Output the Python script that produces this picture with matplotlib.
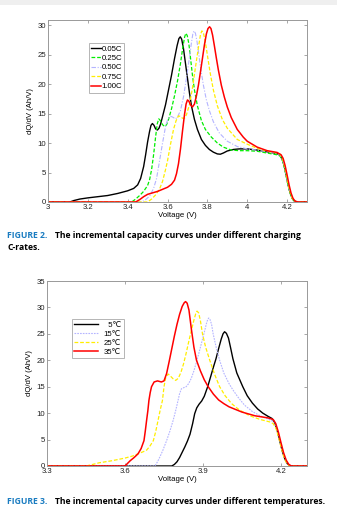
import matplotlib
matplotlib.use("Agg")
import matplotlib.pyplot as plt
from matplotlib.patches import Rectangle

plt.rcParams['font.family'] = ['Liberation Sans', 'DejaVu Sans']

# ---------------- Figure 2 data (C-rates) ----------------
v_005 = [3.0, 3.11, 3.13, 3.16, 3.2, 3.25, 3.3, 3.35, 3.4, 3.43, 3.45, 3.465, 3.48, 3.49, 3.5, 3.51, 3.517, 3.524, 3.532, 3.54, 3.549, 3.557, 3.565, 3.575, 3.59, 3.605, 3.62, 3.635, 3.648, 3.657, 3.664, 3.671, 3.68, 3.69, 3.7, 3.71, 3.72, 3.735, 3.75, 3.77, 3.79, 3.81, 3.83, 3.85, 3.865, 3.88, 3.9, 3.93, 3.96, 4.0, 4.05, 4.1, 4.15, 4.165, 4.175, 4.185, 4.195, 4.205, 4.215, 4.225, 4.235, 4.25, 4.3]
q_005 = [0.0, 0.0, 0.25, 0.5, 0.7, 0.9, 1.1, 1.45, 1.9, 2.3, 2.9, 4.0, 6.0, 8.0, 10.2, 12.0, 13.0, 13.3, 13.0, 12.4, 12.2, 12.5, 13.2, 14.5, 16.5, 19.0, 21.5, 24.3, 26.5, 27.7, 28.0, 27.6, 26.0, 23.5, 21.0, 18.5, 16.3, 14.0, 12.3, 10.6, 9.6, 8.9, 8.45, 8.15, 8.1, 8.3, 8.65, 8.9, 9.0, 9.0, 8.8, 8.5, 8.2, 7.9, 7.3, 6.2, 4.6, 2.9, 1.6, 0.7, 0.2, 0.0, 0.0]

v_025 = [3.0, 3.42, 3.44, 3.46, 3.48, 3.5, 3.51, 3.52, 3.53, 3.54, 3.548, 3.556, 3.564, 3.575, 3.586, 3.595, 3.605, 3.62, 3.635, 3.65, 3.665, 3.677, 3.686, 3.692, 3.699, 3.707, 3.715, 3.725, 3.735, 3.75, 3.77, 3.79, 3.82, 3.85, 3.88, 3.92, 3.96, 4.0, 4.05, 4.1, 4.15, 4.165, 4.175, 4.185, 4.195, 4.205, 4.215, 4.225, 4.235, 4.25, 4.3]
q_025 = [0.0, 0.0, 0.5, 1.1, 1.8, 2.8, 3.8, 5.5, 8.0, 11.0, 13.2, 14.1, 13.8, 13.1, 12.8, 13.1, 14.0, 15.8, 18.0, 20.5, 23.5, 26.3, 28.0, 28.6, 28.2, 26.8, 24.5, 21.5, 19.0, 16.3, 13.8, 12.3, 11.0, 10.0, 9.3, 8.8, 8.7, 8.7, 8.6, 8.3, 8.0, 7.8, 7.2, 6.1, 4.5, 2.8, 1.5, 0.6, 0.15, 0.0, 0.0]

v_050 = [3.0, 3.47, 3.49, 3.51, 3.53, 3.545, 3.56, 3.575, 3.59, 3.6, 3.61, 3.62, 3.63, 3.64, 3.65, 3.665, 3.68, 3.695, 3.71, 3.72, 3.727, 3.733, 3.74, 3.748, 3.757, 3.767, 3.78, 3.795, 3.81, 3.83, 3.86, 3.9, 3.95, 4.0, 4.05, 4.1, 4.15, 4.165, 4.175, 4.185, 4.195, 4.205, 4.215, 4.225, 4.235, 4.25, 4.3]
q_050 = [0.0, 0.0, 0.4, 1.0, 2.3, 4.0, 7.0, 10.0, 12.8, 13.9, 14.4, 14.5, 14.3, 14.1, 14.4, 15.5, 17.8, 21.0, 24.5, 27.0, 28.5, 29.0, 28.6, 27.2, 25.0, 22.5, 19.8, 17.3, 15.5, 13.6, 11.7, 10.3, 9.4, 9.0, 8.8, 8.5, 8.2, 8.0, 7.4, 6.3, 4.7, 3.0, 1.6, 0.7, 0.2, 0.0, 0.0]

v_075 = [3.0, 3.5, 3.52, 3.54, 3.56, 3.575, 3.59, 3.6, 3.615, 3.63, 3.643, 3.655, 3.665, 3.675, 3.685, 3.695, 3.71, 3.725, 3.74, 3.755, 3.765, 3.772, 3.779, 3.787, 3.795, 3.805, 3.815, 3.83, 3.85, 3.875, 3.9, 3.95, 4.0, 4.05, 4.1, 4.15, 4.165, 4.175, 4.185, 4.195, 4.205, 4.215, 4.225, 4.235, 4.25, 4.3]
q_075 = [0.0, 0.0, 0.5, 1.2, 2.2, 3.5, 5.5, 7.0, 9.8, 12.3, 13.8, 14.6, 14.5, 14.2, 14.2, 14.8, 16.5, 19.3, 22.8, 26.2, 28.3, 29.0, 28.8, 27.6, 26.0, 23.8, 21.7, 19.0, 16.3, 14.0, 12.5, 10.6, 9.8, 9.1, 8.6, 8.3, 8.1, 7.5, 6.4, 4.8, 3.1, 1.7, 0.7, 0.2, 0.0, 0.0]

v_100 = [3.0, 3.44, 3.46, 3.48, 3.5, 3.55, 3.6, 3.62, 3.635, 3.645, 3.655, 3.665, 3.675, 3.685, 3.693, 3.7, 3.707, 3.715, 3.725, 3.735, 3.745, 3.755, 3.765, 3.775, 3.785, 3.795, 3.803, 3.811, 3.818, 3.826, 3.835, 3.845, 3.855, 3.87, 3.885, 3.9, 3.92, 3.95, 3.98, 4.0, 4.05, 4.1, 4.15, 4.17, 4.18, 4.19, 4.2, 4.21, 4.22, 4.23, 4.24, 4.255, 4.3]
q_100 = [0.0, 0.0, 0.4, 0.9, 1.3, 1.8, 2.5, 3.0, 3.7, 4.8, 6.5, 9.0, 12.0, 14.8, 16.6, 17.3, 17.1, 16.5, 16.1, 16.6, 18.0, 19.8, 22.0, 24.3, 26.6, 28.5, 29.4, 29.7, 29.4, 28.3, 26.5, 24.4, 22.4, 19.8, 17.8, 16.1, 14.3, 12.3, 11.0, 10.3, 9.3, 8.7, 8.4, 8.0, 7.4, 6.2, 4.6, 2.9, 1.5, 0.6, 0.15, 0.0, 0.0]

labels2 = ['0.05C', '0.25C', '0.50C', '0.75C', '1.00C']
xticks2 = [3.0, 3.2, 3.4, 3.6, 3.8, 4.0, 4.2]
xticklabels2 = ['3', '3.2', '3.4', '3.6', '3.8', '4', '4.2']
yticks2 = [0, 5, 10, 15, 20, 25, 30]

# ---------------- Figure 3 data (temperatures) ----------------
v_5 = [3.3, 3.78, 3.79, 3.8, 3.81, 3.82, 3.83, 3.84, 3.85, 3.86, 3.868, 3.876, 3.885, 3.895, 3.905, 3.918, 3.93, 3.94, 3.95, 3.96, 3.97, 3.977, 3.983, 3.99, 3.998, 4.006, 4.015, 4.03, 4.053, 4.07, 4.09, 4.11, 4.13, 4.15, 4.165, 4.175, 4.185, 4.195, 4.205, 4.215, 4.225, 4.235, 4.3]
q_5 = [0.0, 0.0, 0.3, 0.8, 1.6, 2.6, 3.6, 4.7, 6.0, 8.0, 9.9, 11.0, 11.7, 12.3, 13.2, 15.0, 17.0, 18.7, 20.3, 22.2, 24.0, 25.0, 25.4, 25.1, 24.2, 22.4, 20.3, 17.6, 15.0, 13.3, 11.9, 10.8, 10.0, 9.4, 9.0, 8.3, 6.8, 4.8, 2.8, 1.3, 0.4, 0.0, 0.0]

v_15 = [3.3, 3.715, 3.725, 3.734, 3.745, 3.76, 3.772, 3.785, 3.795, 3.804, 3.81, 3.817, 3.825, 3.835, 3.845, 3.855, 3.865, 3.875, 3.885, 3.895, 3.905, 3.913, 3.918, 3.922, 3.927, 3.933, 3.939, 3.95, 3.964, 3.98, 4.0, 4.015, 4.035, 4.06, 4.09, 4.12, 4.15, 4.17, 4.18, 4.19, 4.2, 4.21, 4.22, 4.23, 4.24, 4.3]
q_15 = [0.0, 0.0, 0.8, 1.7, 2.9, 4.8, 6.5, 8.6, 10.5, 12.4, 13.7, 14.6, 14.8, 15.0, 15.6, 16.6, 18.0, 19.7, 21.5, 23.4, 25.3, 26.9, 27.7, 28.0, 27.7, 26.8, 25.0, 22.6, 20.0, 17.6, 15.6, 14.4, 13.0, 11.5, 10.3, 9.5, 8.9, 8.4, 7.6, 6.0, 4.0, 2.2, 0.9, 0.25, 0.0, 0.0]

v_25 = [3.3, 3.45, 3.48, 3.5, 3.55, 3.6, 3.63, 3.65, 3.67, 3.683, 3.695, 3.709, 3.718, 3.727, 3.735, 3.744, 3.75, 3.757, 3.766, 3.775, 3.785, 3.795, 3.805, 3.815, 3.825, 3.835, 3.845, 3.855, 3.865, 3.872, 3.877, 3.883, 3.89, 3.898, 3.91, 3.926, 3.945, 3.964, 3.985, 4.01, 4.04, 4.08, 4.12, 4.16, 4.17, 4.18, 4.19, 4.2, 4.21, 4.22, 4.23, 4.24, 4.3]
q_25 = [0.0, 0.0, 0.35, 0.6, 1.0, 1.5, 1.9, 2.3, 2.7, 3.0, 3.7, 4.8, 6.5, 8.6, 10.5, 12.4, 15.0, 16.8, 17.4, 17.0, 16.5, 16.2, 16.6, 17.7, 19.3, 21.3, 23.5, 25.6, 27.6, 28.8, 29.3, 29.0, 27.5, 25.0, 22.5, 20.0, 17.3, 15.0, 13.3, 11.8, 10.6, 9.5, 8.8, 8.3, 8.0, 7.2, 5.6, 3.6, 1.9, 0.7, 0.15, 0.0, 0.0]

v_35 = [3.3, 3.6, 3.61, 3.62, 3.635, 3.65, 3.662, 3.673, 3.678, 3.683, 3.688, 3.692, 3.697, 3.702, 3.712, 3.725, 3.74, 3.75, 3.76, 3.77, 3.78, 3.79, 3.8, 3.81, 3.82, 3.828, 3.833, 3.839, 3.846, 3.855, 3.865, 3.875, 3.89, 3.905, 3.92, 3.94, 3.96, 3.98, 4.0, 4.05, 4.1, 4.15, 4.17, 4.18, 4.19, 4.2, 4.21, 4.22, 4.23, 4.24, 4.3]
q_35 = [0.0, 0.0, 0.5, 1.0, 1.6, 2.3, 3.3, 4.8, 6.6, 8.6, 10.5, 12.4, 13.9, 15.0, 15.9, 16.1, 15.9, 16.1, 17.5, 19.8, 22.2, 24.6, 26.8, 28.7, 30.2, 30.9, 31.1, 30.8, 29.5, 26.0, 22.5, 20.0, 18.0, 16.3, 15.0, 13.6, 12.5, 11.8, 11.2, 10.2, 9.5, 9.1, 8.8, 8.0, 6.4, 4.4, 2.5, 1.1, 0.3, 0.0, 0.0]

labels3 = ['  5\u2103', '15\u2103', '25\u2103', '35\u2103']
xticks3 = [3.3, 3.6, 3.9, 4.2]
xticklabels3 = ['3.3', '3.6', '3.9', '4.2']
yticks3 = [0, 5, 10, 15, 20, 25, 30, 35]

# ---------------- drawing ----------------
W, H = 337, 522
fig = plt.figure(figsize=(W / 100, H / 100), dpi=100)
fig.patches.append(Rectangle((0, 1 - 5 / H), 1, 5 / H, transform=fig.transFigure,
                             facecolor='#efefef', edgecolor='none'))

FS = 5.6
spine_c = '#999999'


def style_axes(ax):
    for s in ax.spines.values():
        s.set_color(spine_c)
        s.set_linewidth(0.7)
    ax.tick_params(direction='in', length=2.5, width=0.6, color=spine_c,
                   labelsize=FS, pad=1.5, top=True, right=True, labelcolor='#222222')


ax1 = fig.add_axes([48 / W, 1 - 202 / H, 259 / W, 182 / H])
ax1.plot(v_005, q_005, color='black', lw=1.0, label=labels2[0])
ax1.plot(v_025, q_025, color='#00ee00', lw=0.9, ls=(0, (3, 1.5)), label=labels2[1])
ax1.plot(v_050, q_050, color='#b4b4ff', lw=0.8, ls=(0, (4, 1.5, 1, 1.5)), label=labels2[2])
ax1.plot(v_075, q_075, color='#ffee00', lw=0.9, ls=(0, (3, 1.5)), label=labels2[3])
ax1.plot(v_100, q_100, color='#ff0000', lw=1.1, label=labels2[4])
ax1.set_xlim(3.0, 4.3)
ax1.set_ylim(0, 30.85)
ax1.set_xticks(xticks2)
ax1.set_xticklabels(xticklabels2)
ax1.set_yticks(yticks2)
style_axes(ax1)
ax1.set_xlabel('Voltage (V)', fontsize=FS, labelpad=0.5)
ax1.set_ylabel('dQ/dV (Ah/V)', fontsize=FS, labelpad=2.5)
leg1 = ax1.legend(loc='upper left', bbox_to_anchor=(0.158, 0.874), fontsize=FS,
                  handlelength=1.3, handletextpad=0.0, labelspacing=0.25,
                  borderpad=0.3, borderaxespad=0, fancybox=False, framealpha=1)
leg1.get_frame().set_edgecolor('#aaaaaa')
leg1.get_frame().set_linewidth(0.6)

ax2 = fig.add_axes([47 / W, 1 - 466 / H, 260 / W, 185 / H])
ax2.plot(v_5, q_5, color='black', lw=1.0, label=labels3[0])
ax2.plot(v_15, q_15, color='#b4b4ff', lw=0.8, ls=(0, (1.5, 1)), label=labels3[1])
ax2.plot(v_25, q_25, color='#ffee00', lw=0.9, ls=(0, (3, 1.5)), label=labels3[2])
ax2.plot(v_35, q_35, color='#ff0000', lw=1.1, label=labels3[3])
ax2.set_xlim(3.3, 4.3)
ax2.set_ylim(0, 35)
ax2.set_xticks(xticks3)
ax2.set_xticklabels(xticklabels3)
ax2.set_yticks(yticks3)
style_axes(ax2)
ax2.set_xlabel('Voltage (V)', fontsize=FS, labelpad=0.5)
ax2.set_ylabel('dQ/dV (Ah/V)', fontsize=FS, labelpad=2.5)
leg2 = ax2.legend(loc='upper left', bbox_to_anchor=(0.096, 0.795), fontsize=FS,
                  handlelength=3.0, handletextpad=0.8, labelspacing=0.2,
                  borderpad=0.3, borderaxespad=0, fancybox=False, framealpha=1)
leg2.get_frame().set_edgecolor('#aaaaaa')
leg2.get_frame().set_linewidth(0.6)

# ---------------- captions ----------------
cap_fs = 6.2
blue = '#1a7cc1'
fig.text(7 / W, 1 - 236 / H, 'FIGURE 2.', color=blue, fontsize=cap_fs,
         fontweight='bold', va='center', ha='left', family='Open Sans')
fig.text(55 / W, 1 - 236 / H, 'The incremental capacity curves under different charging',
         color='black', fontsize=cap_fs, fontweight='bold', va='center', ha='left',
         family='Open Sans')
fig.text(7 / W, 1 - 247 / H, 'C-rates.', color='black', fontsize=cap_fs,
         fontweight='bold', va='center', ha='left', family='Open Sans')
fig.text(7 / W, 1 - 501 / H, 'FIGURE 3.', color=blue, fontsize=cap_fs,
         fontweight='bold', va='center', ha='left', family='Open Sans')
fig.text(55 / W, 1 - 501 / H, 'The incremental capacity curves under different temperatures.',
         color='black', fontsize=cap_fs, fontweight='bold', va='center', ha='left',
         family='Open Sans')

fig.savefig('out.png', dpi=100)
